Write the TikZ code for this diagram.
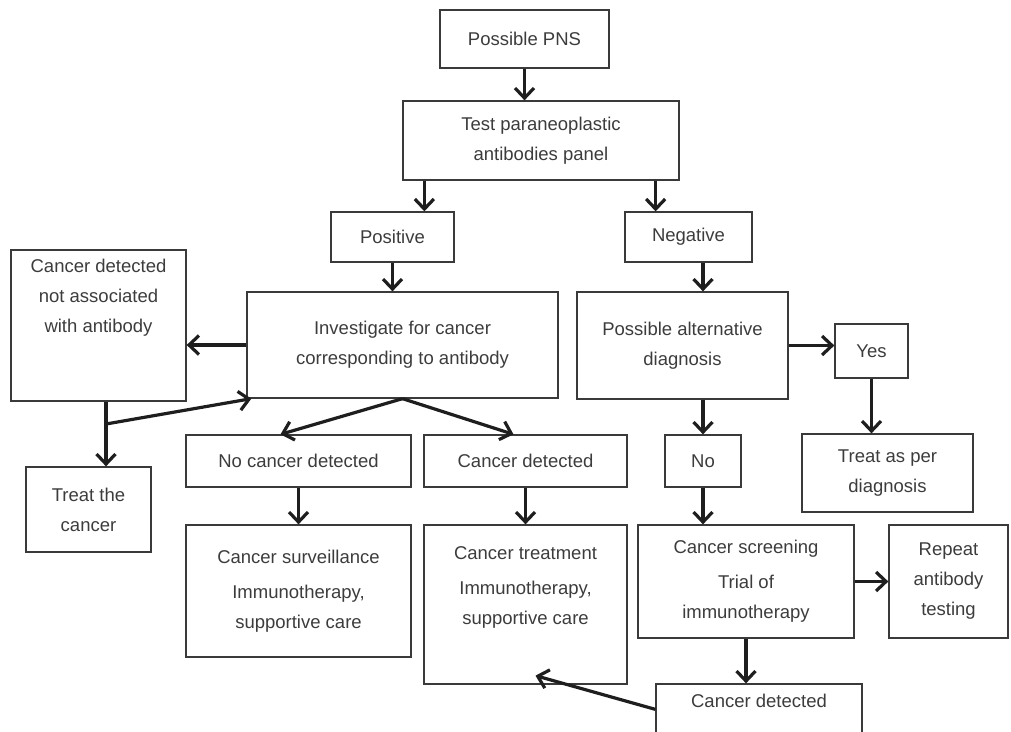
\documentclass[tikz,border=0pt]{standalone}
\usepackage{fontspec}
\setmainfont{Liberation Sans}
\usetikzlibrary{arrows.meta,calc}
\definecolor{boxc}{HTML}{3A3A3A}
\definecolor{txtc}{HTML}{3C3C3C}
\definecolor{arrc}{HTML}{1E1E1E}
\tikzset{
  box/.style={draw=boxc, line width=1.3pt, inner sep=0pt, align=center, text=txtc,
    font=\fontsize{18.5}{30}\selectfont},
  toplabel/.style={anchor=north, inner sep=0pt, align=center, text=txtc,
    font=\fontsize{18.5}{30}\selectfont},
  arr/.style={draw=arrc, line width=3.2pt, -{Straight Barb[length=10pt,width=19pt,line width=3.2pt]}},
}
\begin{document}
\begin{tikzpicture}[x=1pt,y=-1pt]
\useasboundingbox (0,0) rectangle (1011,731);
\clip (0,0) rectangle (1011,731);
% boxes
\node[box, minimum width=169pt, minimum height=58pt] (pns) at (524.5,39) {Possible PNS};
\node[box, minimum width=276pt, minimum height=79pt] (test) at (541,140.5) {Test paraneoplastic\\antibodies panel};
\node[box, minimum width=123pt, minimum height=50pt] (pos) at (392.5,237) {Positive};
\node[box, minimum width=127pt, minimum height=50pt] (neg) at (688.5,237) {Negative};
\node[box, minimum width=175pt, minimum height=151pt,
  label={[toplabel, yshift=-10pt]north:Cancer detected\\not associated\\with antibody}] (cdna) at (98.5,325.5) {};
\node[box, minimum width=311pt, minimum height=106pt] (inv) at (402.5,345) {Investigate for cancer\\corresponding to antibody};
\node[box, minimum width=211pt, minimum height=107pt] (alt) at (682.5,345.5) {Possible alternative\\diagnosis};
\node[box, minimum width=73pt, minimum height=54pt] (yes) at (871.5,351) {Yes};
\node[box, minimum width=171pt, minimum height=78pt] (tpd) at (887.5,473) {Treat as per\\diagnosis};
\node[box, minimum width=125pt, minimum height=85pt] (treat) at (88.5,509.5) {Treat the\\cancer};
\node[box, minimum width=225pt, minimum height=52pt] (nocd) at (298.5,461) {No cancer detected};
\node[box, minimum width=203pt, minimum height=52pt] (cd) at (525.5,461) {Cancer detected};
\node[box, minimum width=76pt, minimum height=52pt] (no) at (703,461) {No};
\node[box, minimum width=225pt, minimum height=132pt] (surv) at (298.5,591) {Cancer surveillance\\[5pt]Immunotherapy,\\supportive care};
\node[box, minimum width=203pt, minimum height=159pt,
  label={[toplabel, yshift=-22pt]north:Cancer treatment\\[5pt]Immunotherapy,\\supportive care}] (trt) at (525.5,604.5) {};
\node[box, minimum width=216pt, minimum height=113pt] (screen) at (746,581.5) {Cancer screening\\[5pt]Trial of\\immunotherapy};
\node[box, minimum width=119pt, minimum height=113pt] (rep) at (948.5,581.5) {Repeat\\antibody\\testing};
\node[box, minimum width=206pt, minimum height=70pt,
  label={[toplabel, yshift=-11pt]north:Cancer detected}] (cd2) at (759,719) {};
% connectors
\coordinate (br) at (106,424);
\draw[arr] (pns.south) -- (pns.south |- test.north);
\draw[arr] ([xshift=22pt]test.south west) -- ([xshift=22pt]test.south west |- pos.north);
\draw[arr] ([xshift=-24pt]test.south east) -- ([xshift=-24pt]test.south east |- neg.north);
\draw[arr] (pos.south) -- (pos.south |- inv.north);
\draw[arr] (neg.south -| no.north) -- (alt.north -| no.north);
\draw[arr] (inv.west) -- (inv.west -| cdna.east);
\draw[arr] (cdna.south -| br) -- (br |- treat.north);
\draw[arr] (br) -- ([xshift=5pt]inv.south west);
\draw[arr] (inv.south) -- ([xshift=-18pt]nocd.north);
\draw[arr] (inv.south) -- ([xshift=-12pt]cd.north);
\draw[arr] (nocd.south) -- (nocd.south |- surv.north);
\draw[arr] (cd.south) -- (cd.south |- trt.north);
\draw[arr] (alt.east) -- (alt.east -| yes.west);
\draw[arr] (yes.south) -- (yes.south |- tpd.north);
\draw[arr] (alt.south -| no.north) -- (no.north);
\draw[arr] (no.south) -- (no.south |- screen.north);
\draw[arr] (screen.east) -- (rep.west);
\draw[arr] (screen.south) -- (screen.south |- cd2.north);
\draw[arr] ([yshift=-26pt]cd2.north west) -- ([xshift=10pt,yshift=9pt]trt.south);
\end{tikzpicture}
\end{document}
